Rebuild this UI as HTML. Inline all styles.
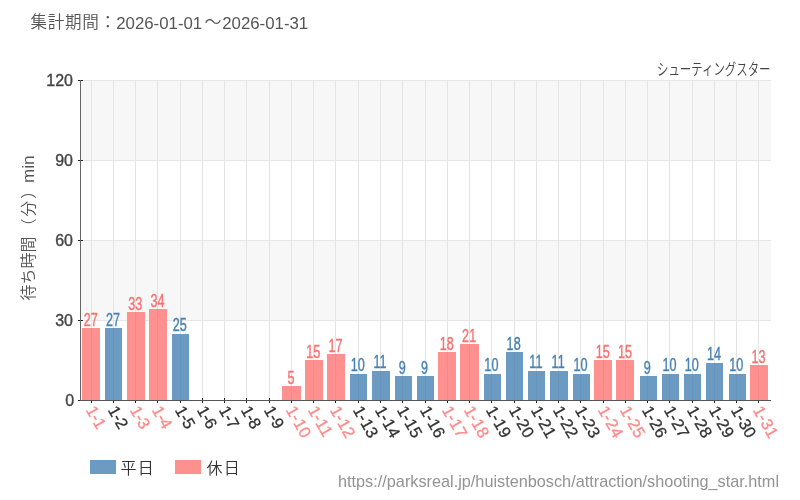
<!DOCTYPE html>
<html lang="ja"><head><meta charset="utf-8"><title>シューティングスター 待ち時間</title>
<style>html,body{margin:0;padding:0;background:#fff}svg{display:block}text{font-family:"Liberation Sans","Noto Sans CJK JP",sans-serif}</style></head><body>
<svg width="800" height="500" viewBox="0 0 800 500">
<rect width="800" height="500" fill="#fff"/>
<g fill="#f7f7f7"><rect x="80" y="80" width="691" height="80"/><rect x="80" y="240" width="691" height="80"/></g>
<g fill="#e6e6e6">
<rect x="80" y="320" width="691" height="1"/>
<rect x="80" y="240" width="691" height="1"/>
<rect x="80" y="160" width="691" height="1"/>
<rect x="80" y="80" width="691" height="1"/>
</g>
<g fill="#e4e4e4">
<rect x="91" y="80" width="1" height="320"/>
<rect x="113" y="80" width="1" height="320"/>
<rect x="135" y="80" width="1" height="320"/>
<rect x="157" y="80" width="1" height="320"/>
<rect x="180" y="80" width="1" height="320"/>
<rect x="202" y="80" width="1" height="320"/>
<rect x="224" y="80" width="1" height="320"/>
<rect x="246" y="80" width="1" height="320"/>
<rect x="269" y="80" width="1" height="320"/>
<rect x="291" y="80" width="1" height="320"/>
<rect x="313" y="80" width="1" height="320"/>
<rect x="335" y="80" width="1" height="320"/>
<rect x="358" y="80" width="1" height="320"/>
<rect x="380" y="80" width="1" height="320"/>
<rect x="402" y="80" width="1" height="320"/>
<rect x="425" y="80" width="1" height="320"/>
<rect x="447" y="80" width="1" height="320"/>
<rect x="469" y="80" width="1" height="320"/>
<rect x="491" y="80" width="1" height="320"/>
<rect x="514" y="80" width="1" height="320"/>
<rect x="536" y="80" width="1" height="320"/>
<rect x="558" y="80" width="1" height="320"/>
<rect x="580" y="80" width="1" height="320"/>
<rect x="603" y="80" width="1" height="320"/>
<rect x="625" y="80" width="1" height="320"/>
<rect x="647" y="80" width="1" height="320"/>
<rect x="669" y="80" width="1" height="320"/>
<rect x="692" y="80" width="1" height="320"/>
<rect x="714" y="80" width="1" height="320"/>
<rect x="736" y="80" width="1" height="320"/>
<rect x="758" y="80" width="1" height="320"/>
</g>
<g fill="#222">
<rect x="78" y="400" width="5" height="1"/>
<rect x="78" y="320" width="5" height="1"/>
<rect x="78" y="240" width="5" height="1"/>
<rect x="78" y="160" width="5" height="1"/>
<rect x="78" y="80" width="5" height="1"/>
<rect x="91" y="398" width="1" height="5"/>
<rect x="113" y="398" width="1" height="5"/>
<rect x="135" y="398" width="1" height="5"/>
<rect x="157" y="398" width="1" height="5"/>
<rect x="180" y="398" width="1" height="5"/>
<rect x="202" y="398" width="1" height="5"/>
<rect x="224" y="398" width="1" height="5"/>
<rect x="246" y="398" width="1" height="5"/>
<rect x="269" y="398" width="1" height="5"/>
<rect x="291" y="398" width="1" height="5"/>
<rect x="313" y="398" width="1" height="5"/>
<rect x="335" y="398" width="1" height="5"/>
<rect x="358" y="398" width="1" height="5"/>
<rect x="380" y="398" width="1" height="5"/>
<rect x="402" y="398" width="1" height="5"/>
<rect x="425" y="398" width="1" height="5"/>
<rect x="447" y="398" width="1" height="5"/>
<rect x="469" y="398" width="1" height="5"/>
<rect x="491" y="398" width="1" height="5"/>
<rect x="514" y="398" width="1" height="5"/>
<rect x="536" y="398" width="1" height="5"/>
<rect x="558" y="398" width="1" height="5"/>
<rect x="580" y="398" width="1" height="5"/>
<rect x="603" y="398" width="1" height="5"/>
<rect x="625" y="398" width="1" height="5"/>
<rect x="647" y="398" width="1" height="5"/>
<rect x="669" y="398" width="1" height="5"/>
<rect x="692" y="398" width="1" height="5"/>
<rect x="714" y="398" width="1" height="5"/>
<rect x="736" y="398" width="1" height="5"/>
<rect x="758" y="398" width="1" height="5"/>
</g>
<rect x="82" y="328" width="18" height="73" fill="#ff9090"/>
<rect x="105" y="328" width="17" height="73" fill="#6b9bc3"/>
<rect x="127" y="312" width="18" height="89" fill="#ff9090"/>
<rect x="149" y="309" width="18" height="92" fill="#ff9090"/>
<rect x="172" y="334" width="17" height="67" fill="#6b9bc3"/>
<rect x="282" y="386" width="19" height="15" fill="#ff9090"/>
<rect x="305" y="360" width="18" height="41" fill="#ff9090"/>
<rect x="327" y="354" width="18" height="47" fill="#ff9090"/>
<rect x="350" y="374" width="17" height="27" fill="#6b9bc3"/>
<rect x="372" y="371" width="18" height="30" fill="#6b9bc3"/>
<rect x="395" y="376" width="17" height="25" fill="#6b9bc3"/>
<rect x="417" y="376" width="17" height="25" fill="#6b9bc3"/>
<rect x="438" y="352" width="18" height="49" fill="#ff9090"/>
<rect x="460" y="344" width="19" height="57" fill="#ff9090"/>
<rect x="484" y="374" width="17" height="27" fill="#6b9bc3"/>
<rect x="506" y="352" width="17" height="49" fill="#6b9bc3"/>
<rect x="528" y="371" width="17" height="30" fill="#6b9bc3"/>
<rect x="550" y="371" width="18" height="30" fill="#6b9bc3"/>
<rect x="573" y="374" width="17" height="27" fill="#6b9bc3"/>
<rect x="594" y="360" width="18" height="41" fill="#ff9090"/>
<rect x="616" y="360" width="18" height="41" fill="#ff9090"/>
<rect x="640" y="376" width="17" height="25" fill="#6b9bc3"/>
<rect x="662" y="374" width="17" height="27" fill="#6b9bc3"/>
<rect x="684" y="374" width="17" height="27" fill="#6b9bc3"/>
<rect x="706" y="363" width="17" height="38" fill="#6b9bc3"/>
<rect x="729" y="374" width="17" height="27" fill="#6b9bc3"/>
<rect x="750" y="365" width="18" height="36" fill="#ff9090"/>
<g fill="#000" fill-opacity="0.045"><rect x="91" y="328" width="1" height="72"/><rect x="113" y="328" width="1" height="72"/><rect x="135" y="312" width="1" height="88"/><rect x="157" y="309" width="1" height="91"/><rect x="180" y="334" width="1" height="66"/><rect x="291" y="386" width="1" height="14"/><rect x="313" y="360" width="1" height="40"/><rect x="335" y="354" width="1" height="46"/><rect x="358" y="374" width="1" height="26"/><rect x="380" y="371" width="1" height="29"/><rect x="402" y="376" width="1" height="24"/><rect x="425" y="376" width="1" height="24"/><rect x="447" y="352" width="1" height="48"/><rect x="469" y="344" width="1" height="56"/><rect x="491" y="374" width="1" height="26"/><rect x="514" y="352" width="1" height="48"/><rect x="536" y="371" width="1" height="29"/><rect x="558" y="371" width="1" height="29"/><rect x="580" y="374" width="1" height="26"/><rect x="603" y="360" width="1" height="40"/><rect x="625" y="360" width="1" height="40"/><rect x="647" y="376" width="1" height="24"/><rect x="669" y="374" width="1" height="26"/><rect x="692" y="374" width="1" height="26"/><rect x="714" y="363" width="1" height="37"/><rect x="736" y="374" width="1" height="26"/><rect x="758" y="365" width="1" height="35"/></g>
<rect x="80" y="80" width="1" height="321" fill="#666"/>
<rect x="80" y="400" width="691" height="1" fill="#555"/>
<rect x="78" y="400" width="2" height="1" fill="#222"/>
<g font-size="16" fill="#444" stroke="#444" stroke-width="0.35" text-anchor="end">
<text x="74.2" y="405.6">0</text>
<text x="73" y="325.6">30</text>
<text x="73" y="245.6">60</text>
<text x="73" y="165.6">90</text>
<text x="73" y="85.6">120</text>
</g>
<g font-size="16.5" letter-spacing="0.3" stroke-width="0.3">
<text transform="translate(85.4,410) rotate(60)" fill="#ff8a8a" stroke="#ff8a8a" dx="0 -0.5 -0.5">1-1</text>
<text transform="translate(107.4,410) rotate(60)" fill="#333" stroke="#333" dx="0 -0.5 -0.5">1-2</text>
<text transform="translate(129.4,410) rotate(60)" fill="#ff8a8a" stroke="#ff8a8a" dx="0 -0.5 -0.5">1-3</text>
<text transform="translate(151.4,410) rotate(60)" fill="#ff8a8a" stroke="#ff8a8a" dx="0 -0.5 -0.5">1-4</text>
<text transform="translate(174.4,410) rotate(60)" fill="#333" stroke="#333" dx="0 -0.5 -0.5">1-5</text>
<text transform="translate(196.4,410) rotate(60)" fill="#333" stroke="#333" dx="0 -0.5 -0.5">1-6</text>
<text transform="translate(218.4,410) rotate(60)" fill="#333" stroke="#333" dx="0 -0.5 -0.5">1-7</text>
<text transform="translate(240.4,410) rotate(60)" fill="#333" stroke="#333" dx="0 -0.5 -0.5">1-8</text>
<text transform="translate(263.4,410) rotate(60)" fill="#333" stroke="#333" dx="0 -0.5 -0.5">1-9</text>
<text transform="translate(285.4,410) rotate(60)" fill="#ff8a8a" stroke="#ff8a8a" dx="0 -0.5 0.2">1-10</text>
<text transform="translate(307.4,410) rotate(60)" fill="#ff8a8a" stroke="#ff8a8a" dx="0 -0.5 0.2">1-11</text>
<text transform="translate(329.4,410) rotate(60)" fill="#ff8a8a" stroke="#ff8a8a" dx="0 -0.5 0.2">1-12</text>
<text transform="translate(352.4,410) rotate(60)" fill="#333" stroke="#333" dx="0 -0.5 0.2">1-13</text>
<text transform="translate(374.4,410) rotate(60)" fill="#333" stroke="#333" dx="0 -0.5 0.2">1-14</text>
<text transform="translate(396.4,410) rotate(60)" fill="#333" stroke="#333" dx="0 -0.5 0.2">1-15</text>
<text transform="translate(419.4,410) rotate(60)" fill="#333" stroke="#333" dx="0 -0.5 0.2">1-16</text>
<text transform="translate(441.4,410) rotate(60)" fill="#ff8a8a" stroke="#ff8a8a" dx="0 -0.5 0.2">1-17</text>
<text transform="translate(463.4,410) rotate(60)" fill="#ff8a8a" stroke="#ff8a8a" dx="0 -0.5 0.2">1-18</text>
<text transform="translate(485.4,410) rotate(60)" fill="#333" stroke="#333" dx="0 -0.5 0.2">1-19</text>
<text transform="translate(508.4,410) rotate(60)" fill="#333" stroke="#333" dx="0 -0.5 0.2">1-20</text>
<text transform="translate(530.4,410) rotate(60)" fill="#333" stroke="#333" dx="0 -0.5 0.2">1-21</text>
<text transform="translate(552.4,410) rotate(60)" fill="#333" stroke="#333" dx="0 -0.5 0.2">1-22</text>
<text transform="translate(574.4,410) rotate(60)" fill="#333" stroke="#333" dx="0 -0.5 0.2">1-23</text>
<text transform="translate(597.4,410) rotate(60)" fill="#ff8a8a" stroke="#ff8a8a" dx="0 -0.5 0.2">1-24</text>
<text transform="translate(619.4,410) rotate(60)" fill="#ff8a8a" stroke="#ff8a8a" dx="0 -0.5 0.2">1-25</text>
<text transform="translate(641.4,410) rotate(60)" fill="#333" stroke="#333" dx="0 -0.5 0.2">1-26</text>
<text transform="translate(663.4,410) rotate(60)" fill="#333" stroke="#333" dx="0 -0.5 0.2">1-27</text>
<text transform="translate(686.4,410) rotate(60)" fill="#333" stroke="#333" dx="0 -0.5 0.2">1-28</text>
<text transform="translate(708.4,410) rotate(60)" fill="#333" stroke="#333" dx="0 -0.5 0.2">1-29</text>
<text transform="translate(730.4,410) rotate(60)" fill="#333" stroke="#333" dx="0 -0.5 0.2">1-30</text>
<text transform="translate(752.4,410) rotate(60)" fill="#ff8a8a" stroke="#ff8a8a" dx="0 -0.5 0.2">1-31</text>
</g>
<text transform="translate(90.73,325.6) scale(0.69,1)" font-size="18.3" fill="#f87171" stroke="#f87171" stroke-width="0.4" text-anchor="middle">27</text>
<text transform="translate(112.99,325.6) scale(0.69,1)" font-size="18.3" fill="#4682b4" stroke="#4682b4" stroke-width="0.4" text-anchor="middle">27</text>
<text transform="translate(135.25,309.6) scale(0.69,1)" font-size="18.3" fill="#f87171" stroke="#f87171" stroke-width="0.4" text-anchor="middle">33</text>
<text transform="translate(157.50,306.6) scale(0.69,1)" font-size="18.3" fill="#f87171" stroke="#f87171" stroke-width="0.4" text-anchor="middle">34</text>
<text transform="translate(179.76,330.6) scale(0.69,1)" font-size="18.3" fill="#4682b4" stroke="#4682b4" stroke-width="0.4" text-anchor="middle">25</text>
<text transform="translate(291.05,383.6) scale(0.69,1)" font-size="18.3" fill="#f87171" stroke="#f87171" stroke-width="0.4" text-anchor="middle">5</text>
<text transform="translate(313.31,357.6) scale(0.69,1)" font-size="18.3" fill="#f87171" stroke="#f87171" stroke-width="0.4" text-anchor="middle">15</text>
<text transform="translate(335.57,351.6) scale(0.69,1)" font-size="18.3" fill="#f87171" stroke="#f87171" stroke-width="0.4" text-anchor="middle">17</text>
<text transform="translate(357.83,370.6) scale(0.69,1)" font-size="18.3" fill="#4682b4" stroke="#4682b4" stroke-width="0.4" text-anchor="middle">10</text>
<text transform="translate(380.08,367.6) scale(0.69,1)" font-size="18.3" fill="#4682b4" stroke="#4682b4" stroke-width="0.4" text-anchor="middle">11</text>
<text transform="translate(402.34,373.6) scale(0.69,1)" font-size="18.3" fill="#4682b4" stroke="#4682b4" stroke-width="0.4" text-anchor="middle">9</text>
<text transform="translate(424.60,373.6) scale(0.69,1)" font-size="18.3" fill="#4682b4" stroke="#4682b4" stroke-width="0.4" text-anchor="middle">9</text>
<text transform="translate(446.86,349.6) scale(0.69,1)" font-size="18.3" fill="#f87171" stroke="#f87171" stroke-width="0.4" text-anchor="middle">18</text>
<text transform="translate(469.12,341.6) scale(0.69,1)" font-size="18.3" fill="#f87171" stroke="#f87171" stroke-width="0.4" text-anchor="middle">21</text>
<text transform="translate(491.37,370.6) scale(0.69,1)" font-size="18.3" fill="#4682b4" stroke="#4682b4" stroke-width="0.4" text-anchor="middle">10</text>
<text transform="translate(513.63,349.6) scale(0.69,1)" font-size="18.3" fill="#4682b4" stroke="#4682b4" stroke-width="0.4" text-anchor="middle">18</text>
<text transform="translate(535.89,367.6) scale(0.69,1)" font-size="18.3" fill="#4682b4" stroke="#4682b4" stroke-width="0.4" text-anchor="middle">11</text>
<text transform="translate(558.15,367.6) scale(0.69,1)" font-size="18.3" fill="#4682b4" stroke="#4682b4" stroke-width="0.4" text-anchor="middle">11</text>
<text transform="translate(580.41,370.6) scale(0.69,1)" font-size="18.3" fill="#4682b4" stroke="#4682b4" stroke-width="0.4" text-anchor="middle">10</text>
<text transform="translate(602.66,357.6) scale(0.69,1)" font-size="18.3" fill="#f87171" stroke="#f87171" stroke-width="0.4" text-anchor="middle">15</text>
<text transform="translate(624.92,357.6) scale(0.69,1)" font-size="18.3" fill="#f87171" stroke="#f87171" stroke-width="0.4" text-anchor="middle">15</text>
<text transform="translate(647.18,373.6) scale(0.69,1)" font-size="18.3" fill="#4682b4" stroke="#4682b4" stroke-width="0.4" text-anchor="middle">9</text>
<text transform="translate(669.44,370.6) scale(0.69,1)" font-size="18.3" fill="#4682b4" stroke="#4682b4" stroke-width="0.4" text-anchor="middle">10</text>
<text transform="translate(691.70,370.6) scale(0.69,1)" font-size="18.3" fill="#4682b4" stroke="#4682b4" stroke-width="0.4" text-anchor="middle">10</text>
<text transform="translate(713.95,359.6) scale(0.69,1)" font-size="18.3" fill="#4682b4" stroke="#4682b4" stroke-width="0.4" text-anchor="middle">14</text>
<text transform="translate(736.21,370.6) scale(0.69,1)" font-size="18.3" fill="#4682b4" stroke="#4682b4" stroke-width="0.4" text-anchor="middle">10</text>
<text transform="translate(758.47,362.6) scale(0.69,1)" font-size="18.3" fill="#f87171" stroke="#f87171" stroke-width="0.4" text-anchor="middle">13</text>
<g font-size="16.6" fill="#555">
<text x="30.5" y="28.4" textLength="85.5" lengthAdjust="spacing" font-weight="350">集計期間：</text>
<text x="116.2" y="29.2" font-size="16" textLength="86" lengthAdjust="spacingAndGlyphs">2026-01-01</text>
<text x="204.5" y="28.4" textLength="17" lengthAdjust="spacingAndGlyphs" font-weight="350">～</text>
<text x="222.2" y="29.2" font-size="16" textLength="86" lengthAdjust="spacingAndGlyphs">2026-01-31</text>
</g>
<text x="657" y="74.9" font-size="16" fill="#444" textLength="113.5" lengthAdjust="spacingAndGlyphs" font-weight="350">シューティングスター</text>
<g transform="translate(34.4,0) rotate(-90)" font-size="16" fill="#555">
<text x="-300.5" y="0" textLength="64" lengthAdjust="spacing" font-weight="350">待ち時間</text>
<text x="-234.6 -216.7 -198.8" y="0" font-weight="350">（分）</text>
<text x="-183" y="0" textLength="27.5" lengthAdjust="spacingAndGlyphs">min</text>
</g>
<rect x="90" y="460" width="26" height="14" fill="#6b9bc3"/>
<text x="120.5" y="473.5" font-size="16" fill="#333" textLength="33.3" lengthAdjust="spacing" font-weight="350">平日</text>
<rect x="175" y="460" width="26" height="14" fill="#ff9090"/>
<text x="206.5" y="473.5" font-size="16" fill="#333" textLength="33.3" lengthAdjust="spacing" font-weight="350">休日</text>
<text x="338" y="487" font-size="16.6" fill="#939393" textLength="441" lengthAdjust="spacingAndGlyphs">https://parksreal.jp/huistenbosch/attraction/shooting_star.html</text>
</svg></body></html>
